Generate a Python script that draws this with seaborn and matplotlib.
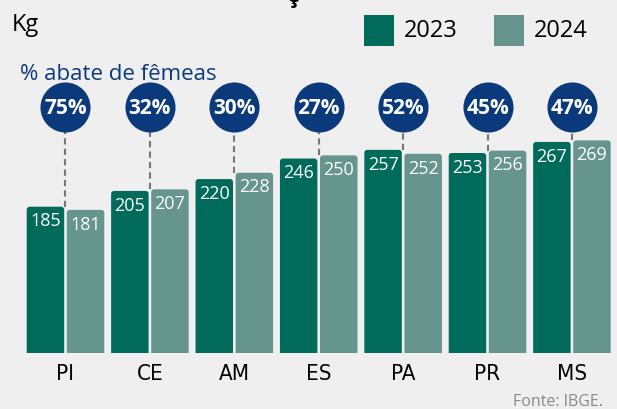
import pandas as pd
import matplotlib.pyplot as plt
import seaborn as sns
from matplotlib.patches import FancyBboxPatch

# data
estados = ['PI', 'CE', 'AM', 'ES', 'PA', 'PR', 'MS']
peso_2023 = [185, 205, 220, 246, 257, 253, 267]
peso_2024 = [181, 207, 228, 250, 252, 256, 269]
abate_femeas = [75, 32, 30, 27, 52, 45, 47]

COR_2023 = '#006B5A'
COR_2024 = '#66958E'
AZUL = '#0A3A7C'
FUNDO = '#EFEFEF'

df = pd.DataFrame({
    'estado': estados * 2,
    'peso': peso_2023 + peso_2024,
    'ano': ['2023'] * len(estados) + ['2024'] * len(estados),
})

sns.set_theme(style='white')
plt.rcParams['font.family'] = ['Open Sans', 'DejaVu Sans']

fig = plt.figure(figsize=(6.17, 4.10), dpi=100, facecolor=FUNDO)
ax = fig.add_axes([0, 0.137, 1, 0.863])
ax.set_facecolor(FUNDO)

sns.barplot(data=df, x='estado', y='peso', hue='ano', order=estados,
            palette=[COR_2023, COR_2024], saturation=1, width=0.95, gap=0.065,
            legend=False, ax=ax, zorder=3)

ax.set_xlim(-0.776, 6.534)
ax.set_ylim(0, 448)

# rounded tops on the bars
aspect = 106.8
for p in list(ax.patches):
    x, w, h = p.get_x(), p.get_width(), p.get_height()
    fc = p.get_facecolor()
    p.remove()
    ax.add_patch(FancyBboxPatch((x, -10), w, h + 10,
                                boxstyle='round,pad=0,rounding_size=0.035',
                                mutation_aspect=aspect, fc=fc, ec='none',
                                zorder=3, clip_on=True))
    ax.text(x + w / 2, h - 6, f'{h:.0f}', ha='center', va='top', color='white',
            fontsize=13, zorder=5)

circ_y = 311
for i, pct in enumerate(abate_femeas):
    top = max(peso_2023[i], peso_2024[i])
    ax.plot([i, i], [top, circ_y], ls=(0, (3, 2)), color='#777777', lw=1.5, zorder=2)
ax.scatter(range(len(estados)), [circ_y] * len(estados), s=1300, color=AZUL,
           zorder=4, linewidths=0)
for i, pct in enumerate(abate_femeas):
    ax.text(i, circ_y - 1, f'{pct}%', ha='center', va='center', color='white',
            fontsize=15, fontweight='bold', zorder=5)

ax.set_xlabel('')
ax.set_ylabel('')
ax.set_yticks([])
ax.tick_params(axis='x', length=0, pad=7)
ax.set_xticks(range(len(estados)))
ax.set_xticklabels(estados, fontsize=16, color='black',
                   family=['DejaVu Sans'], stretch='condensed')
for s in ax.spines.values():
    s.set_visible(False)

fig.text(12 / 617, 1 - 31 / 410, 'Kg', fontsize=17, color='black')
fig.text(20 / 617, 1 - 80 / 410, '% abate de fêmeas', fontsize=16, color=AZUL)
fig.text(293 / 617, 1 - 2 / 410, 'ç', fontsize=18, fontweight='bold',
         color='black', ha='center', va='baseline')

# legend
for xs, cor, ano in [(364, COR_2023, '2023'), (494, COR_2024, '2024')]:
    fig.patches.append(plt.Rectangle((xs / 617, 1 - 47 / 410), 30 / 617, 31 / 410,
                                     transform=fig.transFigure, fc=cor, ec='none'))
    fig.text((xs + 40) / 617, 1 - 37 / 410, ano, fontsize=17, color='black')

fig.text(603 / 617, 1 - 406 / 410, 'Fonte: IBGE.', fontsize=11.5, color='#8A8A8A',
         ha='right')

fig.savefig('out.png', dpi=100, facecolor=FUNDO)
